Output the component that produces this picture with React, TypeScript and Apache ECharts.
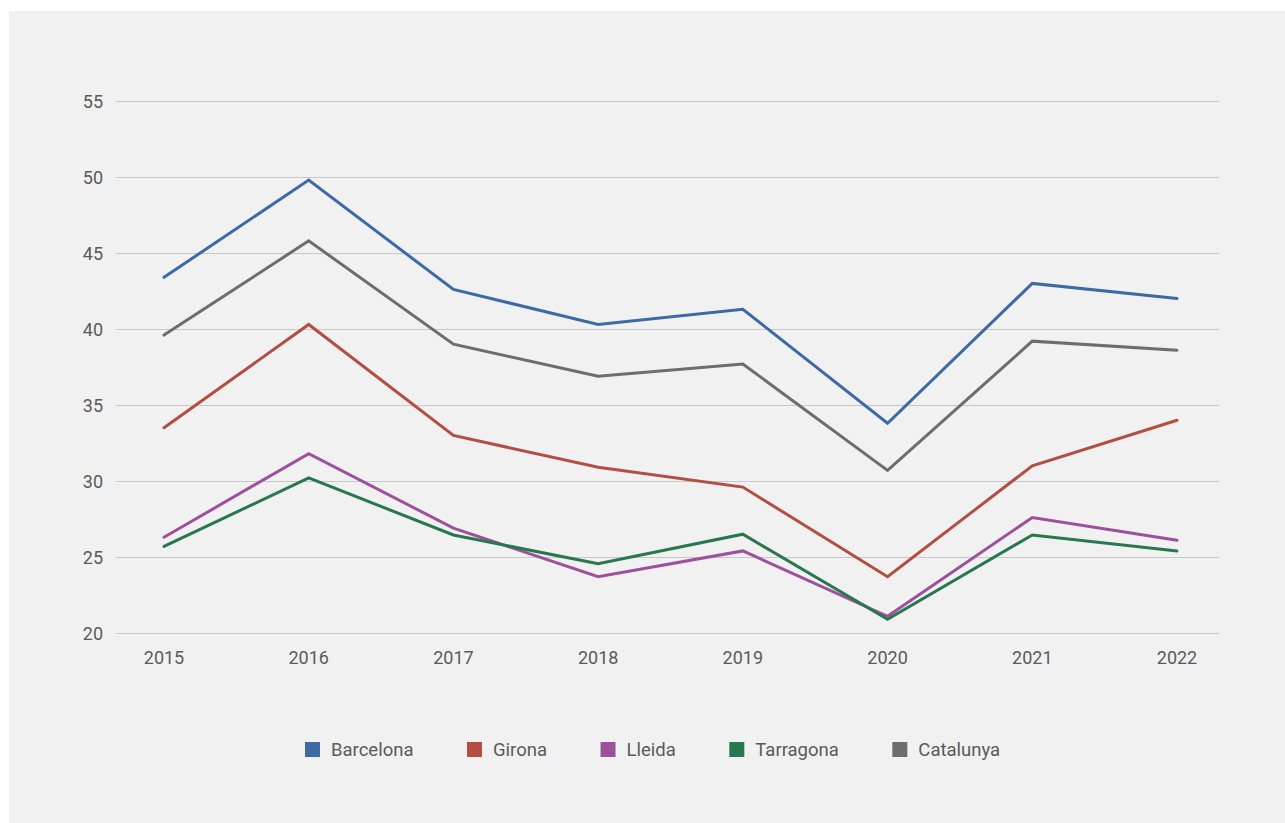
import React, { useEffect, useRef } from "react";
import * as echarts from "echarts";

const years = ["2015", "2016", "2017", "2018", "2019", "2020", "2021", "2022"];
const barcelona = [43.4, 49.8, 42.6, 40.3, 41.3, 33.8, 43.0, 42.0];
const girona = [33.5, 40.3, 33.0, 30.9, 29.6, 23.7, 31.0, 34.0];
const lleida = [26.3, 31.8, 26.9, 23.7, 25.4, 21.1, 27.6, 26.1];
const tarragona = [25.7, 30.2, 26.45, 24.55, 26.5, 20.9, 26.45, 25.4];
const catalunya = [39.6, 45.8, 39.0, 36.9, 37.7, 30.7, 39.2, 38.6];

const seriesNames = ["Barcelona", "Girona", "Lleida", "Tarragona", "Catalunya"];
const seriesData = [barcelona, girona, lleida, tarragona, catalunya];
const colors = ["#3d6aa5", "#b24e42", "#9d519c", "#28774f", "#6d6d6d"];

const yMin = 20;
const yMax = 55;
const yStep = 5;

export default function App() {
  const ref = useRef<HTMLDivElement>(null);
  useEffect(() => {
    if (!ref.current) return;
    const chart = echarts.init(ref.current, undefined, { renderer: "svg" });
    const font = "Roboto, 'Noto Sans', sans-serif";
    chart.setOption({
      animation: false,
      backgroundColor: "#ffffff",
      color: colors,
      textStyle: { fontFamily: font },
      graphic: [
        {
          type: "rect",
          z: -10,
          silent: true,
          shape: { x: 9, y: 11, width: 1276, height: 812 },
          style: { fill: "#f1f1f1" },
        },
      ],
      grid: [
        { left: 116, right: 66, top: 101, bottom: 190 },
        { left: 164, right: 108, top: 101, bottom: 190 },
      ],
      xAxis: [
        {
          gridIndex: 0,
          type: "category",
          data: years,
          show: false,
        },
        {
          gridIndex: 1,
          type: "category",
          data: years,
          boundaryGap: false,
          axisLine: { show: false },
          axisTick: { show: false },
          splitLine: { show: false },
          axisLabel: {
            color: "#5a5a5a",
            fontSize: 18,
            fontFamily: font,
            margin: 15,
          },
        },
      ],
      yAxis: [
        {
          gridIndex: 0,
          type: "value",
          min: yMin,
          max: yMax,
          interval: yStep,
          axisLine: { show: false },
          axisTick: { show: false },
          splitLine: { lineStyle: { color: "#c8c8c8", width: 1 } },
          axisLabel: {
            color: "#5a5a5a",
            fontSize: 18,
            fontFamily: font,
            margin: 13,
          },
        },
        {
          gridIndex: 1,
          type: "value",
          min: yMin,
          max: yMax,
          interval: yStep,
          show: false,
          splitLine: { show: false },
        },
      ],
      legend: {
        left: 300,
        top: 735,
        itemWidth: 15,
        itemHeight: 15,
        itemGap: 53.5,
        icon: "rect",
        textStyle: { color: "#5a5a5a", fontSize: 18.5, fontFamily: font, padding: [0, 0, 0, 6] },
        data: seriesNames,
      },
      series: seriesNames.map((name, i) => ({
        name,
        type: "line",
        xAxisIndex: 1,
        yAxisIndex: 1,
        data: seriesData[i],
        symbol: "none",
        lineStyle: { width: 3, color: colors[i], cap: "round", join: "miter" },
        itemStyle: { color: colors[i] },
      })),
    });
    return () => chart.dispose();
  }, []);
  return (
    <div
      ref={ref}
      style={{ position: "absolute", left: 0, top: 0, width: 1285, height: 823 }}
    />
  );
}
